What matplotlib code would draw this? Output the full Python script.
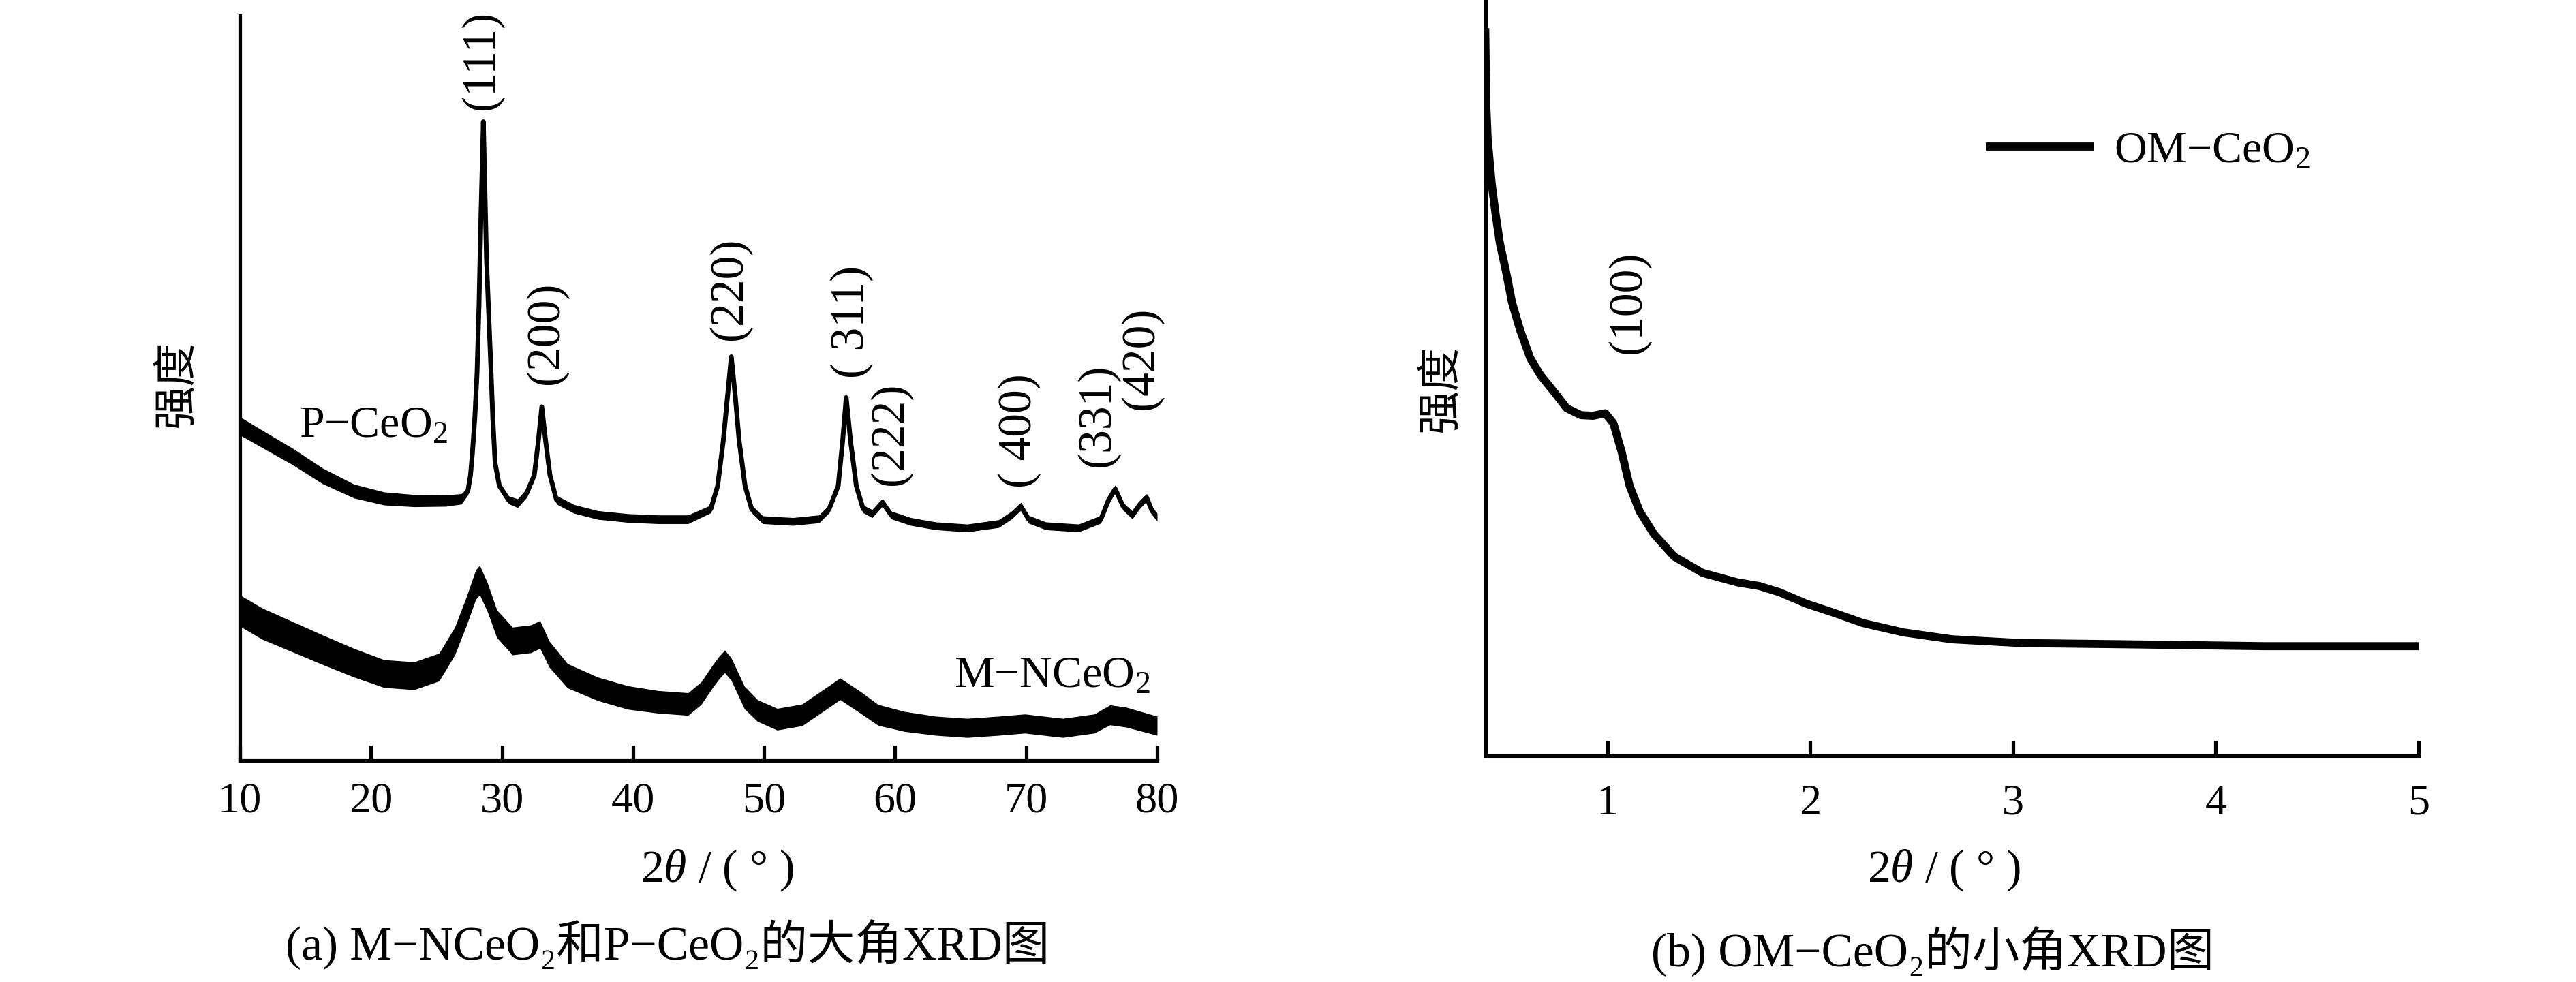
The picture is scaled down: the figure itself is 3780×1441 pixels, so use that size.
import numpy as np
import matplotlib
matplotlib.use("Agg")
import matplotlib.pyplot as plt

# -------------------- FONTS --------------------
plt.rcParams['font.family'] = ['Liberation Serif', 'Noto Sans CJK SC', 'DejaVu Sans']
plt.rcParams['mathtext.fontset'] = 'custom'
plt.rcParams['mathtext.rm'] = 'Liberation Serif'
plt.rcParams['mathtext.it'] = 'Liberation Serif:italic'

# -------------------- DATA --------------------
# (a) wide-angle XRD, P-CeO2
twotheta_p = [10.0, 11.7, 14.0, 16.3, 18.7, 21.0, 23.3, 25.7, 26.9, 27.4, 27.6, 27.75,
              27.93, 28.1, 28.25, 28.4, 28.58, 28.82, 28.96, 29.17, 29.3, 29.48, 29.8, 30.5,
              31.2, 31.9, 32.47, 32.78, 33.04, 33.33, 33.66, 34.16, 35.5, 37.3, 39.6, 41.9,
              44.2, 45.94, 46.46, 46.89, 47.5, 47.8, 48.1, 48.55, 49.05, 49.9, 52.2, 54.2,
              54.97, 55.66, 56.0, 56.27, 56.6, 57.04, 57.56, 58.26, 59.04, 59.7, 61.2, 63.1,
              65.5, 67.9, 68.9, 69.6, 70.2, 71.5, 74.0, 75.7, 76.3, 76.8, 77.4, 78.1,
              78.7, 79.2, 79.6, 80.0]
inten_p = [770, 740, 700, 655, 620, 603, 598, 598, 602, 620, 657, 710,
           789, 893, 1049, 1260, 1470, 1154, 1049, 893, 789, 684, 632, 600,
           592, 616, 657, 736, 814, 736, 657, 600, 579, 565, 558, 555,
           555, 579, 632, 736, 929, 840, 736, 632, 579, 554, 550, 556,
           579, 632, 736, 835, 736, 632, 579, 568, 594, 565, 550, 540,
           535, 545, 565, 585, 555, 540, 535, 555, 600, 625, 585, 565,
           590, 605, 575, 560]
noise_p = [21, 20, 19, 18, 16, 15, 14, 13, 12] + [9] * 15 + [10] * 13 + [9] * 39

# (a) wide-angle XRD, M-NCeO2
twotheta_m = [10.0, 11.7, 14.0, 16.3, 18.7, 21.0, 23.3, 25.2, 26.4, 27.3, 28.0, 28.3, 28.9,
              29.6, 30.8, 32.2, 32.9, 33.6, 35.0, 37.3, 39.6, 41.9, 44.2, 45.2, 46.1, 46.6,
              47.0, 47.5, 48.5, 49.5, 51.0, 52.9, 54.6, 55.8, 57.3, 58.7, 60.7, 63.1, 65.5,
              67.9, 69.9, 72.8, 75.2, 76.4, 77.6, 80.0]
inten_m = [345, 315, 285, 255, 225, 200, 195, 215, 275, 345, 405, 415, 375,
           315, 275, 280, 290, 245, 195, 165, 145, 135, 130, 155, 195, 215,
           228, 210, 145, 115, 95, 105, 140, 165, 135, 105, 90, 80, 75,
           80, 85, 75, 85, 105, 100, 80]
noise_m = [36, 36, 35, 34, 33, 32, 32, 32, 32, 33, 34, 34, 33,
           32, 32, 32, 32, 30, 28, 27, 27, 26, 26, 26, 26, 26,
           26, 26, 26, 25, 25, 25, 25, 25, 25, 24, 23, 22, 22,
           22, 22, 22, 22, 23, 23, 22]

# peak indices for (a)
hkl_labels = ["(111)", "(200)", "(220)", "( 311)", "(222)", "( 400)", "(331)", "(420)"]
hkl_x = [28.5, 33.4, 47.4, 56.7, 59.7, 69.5, 75.5, 78.8]
hkl_y = [1498, 866, 967, 880, 634, 628, 676, 808]

# (b) small-angle XRD, OM-CeO2
twotheta_om = [0.398, 0.403, 0.41, 0.43, 0.45, 0.47, 0.50, 0.53, 0.57, 0.62, 0.67, 0.74,
               0.80, 0.87, 0.93, 0.99, 1.03, 1.07, 1.11, 1.16, 1.23, 1.33, 1.47, 1.64,
               1.75, 1.85, 1.98, 2.12, 2.26, 2.46, 2.70, 3.04, 3.56, 4.24, 5.00]
inten_om = [1162, 1041, 985, 913, 863, 819, 774, 724, 680, 635, 608, 580,
            555, 544, 543, 547, 531, 486, 431, 390, 354, 318, 292, 277,
            271, 261, 243, 228, 212, 197, 186, 180, 178, 175, 175]

W, H = 3780, 1441
DPI = 250


def fx(px):
    return px / W


def fy(py):
    return 1 - py / H


fig = plt.figure(figsize=(W / DPI, H / DPI), dpi=DPI)

tick_fs = 18.5
label_fs = 20


def style_axes(ax, pad):
    for s in ["top", "right"]:
        ax.spines[s].set_visible(False)
    for s in ["left", "bottom"]:
        ax.spines[s].set_linewidth(1.5)
    ax.set_yticks([])
    ax.tick_params(axis="x", direction="in", length=6.3, width=1.5,
                   labelsize=tick_fs, pad=pad)


# -------------------- (a) WIDE ANGLE --------------------
ax1 = fig.add_axes([fx(352), fy(1116), fx(1698) - fx(352), fy(23) - fy(1116)])
xp, yp, npn = np.array(twotheta_p), np.array(inten_p), np.array(noise_p)
xm, ym, nm = np.array(twotheta_m), np.array(inten_m), np.array(noise_m)
ax1.fill_between(xp, yp - npn, yp + npn, color="black", lw=0)
ax1.plot(xp, yp, color="black", lw=2.0)
ax1.fill_between(xm, ym - nm, ym + nm, color="black", lw=0)
ax1.plot(xm, ym, color="black", lw=2.0)
ax1.set_xlim(10, 80)
ax1.set_ylim(0, 1714)
ax1.set_xticks(range(10, 81, 10))
style_axes(ax1, 9)

for lab, x, y in zip(hkl_labels, hkl_x, hkl_y):
    ax1.text(x, y, lab, rotation=90, ha="center", va="bottom",
             fontsize=label_fs, clip_on=False)

ax1.text(14.5, 745, "P\u2212CeO$_2$", fontsize=19, va="baseline", ha="left")
ax1.text(64.5, 170, "M\u2212NCeO$_2$", fontsize=19, va="baseline", ha="left")

# -------------------- (b) SMALL ANGLE --------------------
ax2 = fig.add_axes([fx(2180), fy(1109), fx(3549) - fx(2180), 1 - fy(1109)])
ax2.plot(twotheta_om, inten_om, color="black", lw=3.4, solid_capstyle="butt",
         label="OM\u2212CeO$_2$")
ax2.set_xlim(0.4, 5)
ax2.set_ylim(0, 1207)
ax2.set_xticks([1, 2, 3, 4, 5])
style_axes(ax2, 12)
ax2.text(1.107, 642, "(100)", rotation=90, ha="center", va="bottom", fontsize=label_fs)
ax2.legend(loc="center left", bbox_to_anchor=(0.536, 0.80), frameon=False,
           fontsize=19, handlelength=2.4, handletextpad=0.45,
           borderpad=0, borderaxespad=0)

# -------------------- AXIS LABELS / CAPTIONS --------------------
fig.text(fx(1052), fy(1277), r"2$\theta$ / ( ° )", fontsize=19.5, ha="center", va="center")
fig.text(fx(2852), fy(1277), r"2$\theta$ / ( ° )", fontsize=19.5, ha="center", va="center")
fig.text(fx(261), fy(563), "强度", fontsize=18.5, rotation=90, ha="center", va="center")
fig.text(fx(2116), fy(570), "强度", fontsize=18.5, rotation=90, ha="center", va="center")
fig.text(fx(980), fy(1408), "(a) M\u2212NCeO\u2082和P\u2212CeO\u2082的大角XRD图",
         fontsize=20, ha="center", va="baseline")
fig.text(fx(2836), fy(1418), "(b) OM\u2212CeO\u2082的小角XRD图",
         fontsize=20, ha="center", va="baseline")

fig.savefig("out.png", dpi=DPI, facecolor="white")
